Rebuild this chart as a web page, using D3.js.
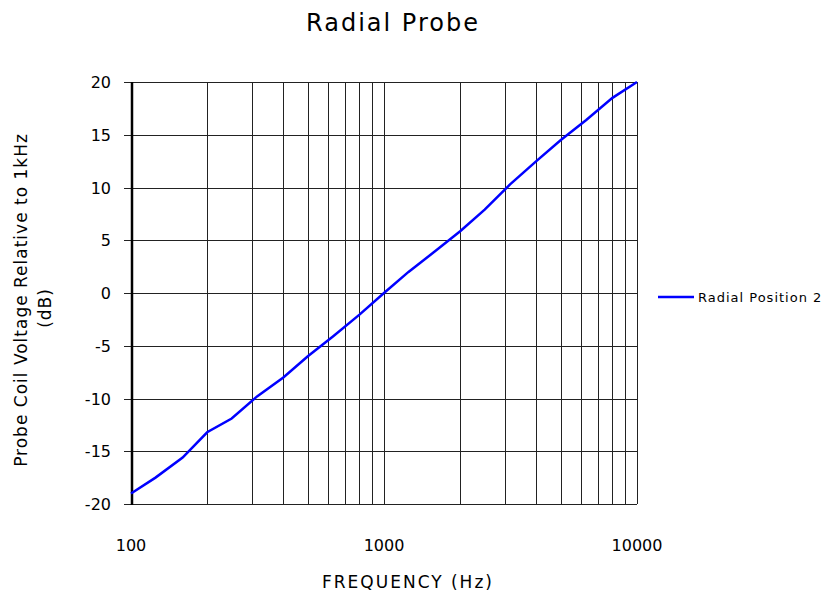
<!DOCTYPE html>
<html>
<head>
<meta charset="utf-8">
<script src="https://cdn.jsdelivr.net/npm/d3@7"></script>
<style>
  body { margin: 0; background: #fff; }
  text { font-family: "DejaVu Sans", sans-serif; fill: #000; }
</style>
</head>
<body>
<svg width="830" height="597"></svg>
<script>
// data
const freqs = [100, 125, 160, 200, 250, 315, 400, 500, 630, 800, 1000, 1250, 1600, 2000, 2500, 3150, 4000, 5000, 6300, 8000, 10000]
const dbValues = [-19.0, -17.5, -15.6, -13.2, -11.9, -9.8, -8.0, -6.0, -4.1, -2.05, 0, 2.0, 4.0, 5.85, 7.9, 10.3, 12.5, 14.5, 16.4, 18.5, 20.0]
const xTickLabels = [100, 1000, 10000]
const yTicks = [-20, -15, -10, -5, 0, 5, 10, 15, 20]
const seriesName = 'Radial Position 2'

let svg = d3.select('svg')
let plotLeft = 131, plotRight = 637, plotTop = 82, plotBottom = 504

let x = d3.scaleLog().domain([100, 10000]).range([plotLeft, plotRight])
let y = d3.scaleLinear().domain([-20, 20]).range([plotBottom, plotTop])

// 标题
svg.append('text')
  .attr('x', 393).attr('y', 31)
  .attr('text-anchor', 'middle')
  .style('font-size', '24px')
  .style('letter-spacing', '2px')
  .text('Radial Probe')

// 网格
let minor = []
for (let d = 100; d < 10000; d *= 10) {
  for (let k = 2; k <= 9; k++) minor.push(d * k)
}
minor.push(1000)
svg.append('g')
  .selectAll('line')
  .data(minor)
  .enter()
  .append('line')
  .attr('x1', d => Math.round(x(d)) + 0.5)
  .attr('x2', d => Math.round(x(d)) + 0.5)
  .attr('y1', plotTop).attr('y2', plotBottom)
  .attr('stroke', '#222')
  .attr('stroke-width', 1)

svg.append('g')
  .selectAll('line')
  .data(yTicks)
  .enter()
  .append('line')
  .attr('x1', plotLeft - 7).attr('x2', plotRight)
  .attr('y1', d => Math.round(y(d)) + 0.5)
  .attr('y2', d => Math.round(y(d)) + 0.5)
  .attr('stroke', '#222')
  .attr('stroke-width', 1)

// 右边框
svg.append('line')
  .attr('x1', plotRight + 0.5).attr('x2', plotRight + 0.5)
  .attr('y1', plotTop).attr('y2', plotBottom)
  .attr('stroke', '#222')
// 左轴
svg.append('line')
  .attr('x1', plotLeft + 1).attr('x2', plotLeft + 1)
  .attr('y1', plotTop).attr('y2', plotBottom + 1)
  .attr('stroke', '#000')
  .attr('stroke-width', 2.5)

// y 刻度文字
svg.append('g')
  .selectAll('text')
  .data(yTicks)
  .enter()
  .append('text')
  .attr('x', 111)
  .attr('y', d => y(d) + 6)
  .attr('text-anchor', 'end')
  .style('font-size', '16px')
  .text(d => d)

// x 刻度文字
svg.append('g')
  .selectAll('text')
  .data(xTickLabels)
  .enter()
  .append('text')
  .attr('x', d => x(d))
  .attr('y', 551)
  .attr('text-anchor', 'middle')
  .style('font-size', '16px')
  .text(d => d)

svg.append('text')
  .attr('x', 408).attr('y', 588)
  .attr('text-anchor', 'middle')
  .style('font-size', '17px')
  .style('letter-spacing', '2px')
  .text('FREQUENCY (Hz)')

// y 轴标题
let yTitle = svg.append('text')
  .attr('transform', 'translate(27,300) rotate(-90)')
  .attr('text-anchor', 'middle')
  .style('font-size', '17px')
  .style('letter-spacing', '1px')
yTitle.append('tspan').attr('x', 0).attr('dy', 0).text('Probe Coil Voltage Relative to 1kHz')
yTitle.append('tspan').attr('x', -8).attr('dy', 24).text('(dB)')

// 曲线
let points = freqs.map((f, i) => [f, dbValues[i]])
let line = d3.line()
  .x(d => x(d[0]))
  .y(d => y(d[1]))
svg.append('path')
  .datum(points)
  .attr('d', line)
  .attr('fill', 'none')
  .attr('stroke', '#0000ff')
  .attr('stroke-width', 2.5)

// 图例
svg.append('line')
  .attr('x1', 658).attr('x2', 694)
  .attr('y1', 297).attr('y2', 297)
  .attr('stroke', '#0000ff')
  .attr('stroke-width', 2.5)
svg.append('text')
  .attr('x', 698).attr('y', 302)
  .style('font-size', '13px')
  .style('letter-spacing', '1px')
  .text(seriesName)
</script>
</body>
</html>
